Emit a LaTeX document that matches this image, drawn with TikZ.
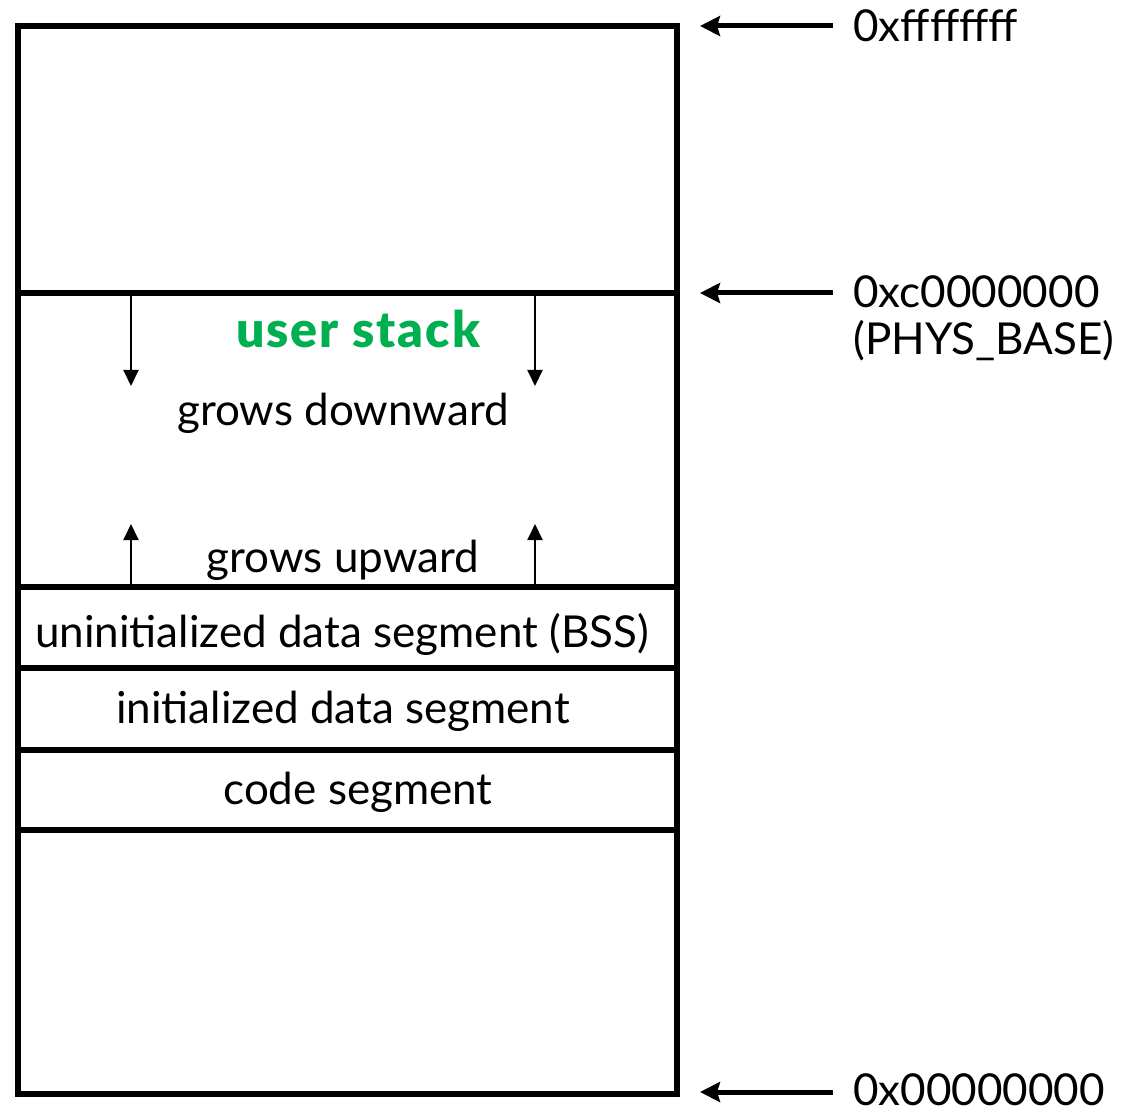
\documentclass[tikz,border=0pt]{standalone}
\usepackage{fontspec}
\setmainfont{Lato}
\newfontfamily\stackfont{Lato Black}[LetterSpace=4]
\usetikzlibrary{arrows.meta}
\definecolor{stackGreen}{RGB}{0,176,80}

\begin{document}
\begin{tikzpicture}[x=0.5pt,y=-0.5pt,
  font=\fontsize{22}{26}\selectfont,
  segLine/.style={line width=3pt},
  growArrow/.style={line width=1pt,-{Triangle[length=8pt,width=7.5pt]}},
  addrArrow/.style={line width=2.5pt,-{Stealth[length=10pt,width=10pt,inset=1.5pt]}}]

\useasboundingbox (0,0) rectangle (1129,1112);

% memory layout
\draw[segLine] (18,26) rectangle (677,1094);
\foreach \y in {293,587,668,750,830}
  \draw[segLine] (18,\y) -- (677,\y);

% stack / heap growth
\coordinate (dlTail) at (131,293);
\coordinate (dlTip) at (131,386);
\coordinate (drTail) at (535,293);
\coordinate (drTip) at (535,386);
\coordinate (ulTail) at (131,587);
\coordinate (ulTip) at (131,524);
\coordinate (urTail) at (535,587);
\coordinate (urTip) at (535,524);
\draw[growArrow] (dlTail) -- (dlTip);
\draw[growArrow] (drTail) -- (drTip);
\draw[growArrow] (ulTail) -- (ulTip);
\draw[growArrow] (urTail) -- (urTip);

\node[stackGreen,anchor=base,font=\fontsize{25}{30}\stackfont]
     at (358,348) (stackCap) {user stack};
\node[anchor=base]
     at (343,425) (downCap) {grows downward};
\node[anchor=base]
     at (343,572) (upCap) {grows upward};

% segments
\node[anchor=base]
     at (342,647) (bssCap) {uninitialized data segment (BSS)};
\node[anchor=base]
     at (343,723) (dataCap) {initialized data segment};
\node[anchor=base]
     at (358,804) (codeCap) {code segment};

% addresses
\coordinate (topTail) at (833,26);
\coordinate (topTip) at (700,26);
\coordinate (physTail) at (833,293);
\coordinate (physTip) at (700,293);
\coordinate (zeroTail) at (833,1092);
\coordinate (zeroTip) at (700,1092);
\draw[addrArrow] (topTail) -- (topTip);
\draw[addrArrow] (physTail) -- (physTip);
\draw[addrArrow] (zeroTail) -- (zeroTip);

\node[anchor=base west,inner sep=0pt]
     at (853,42) (topCap) {0xffffffff};
\node[anchor=base west,inner sep=0pt]
     at (853,308) (physCap) {0xc0000000};
\node[anchor=base west,inner sep=0pt]
     at (853,355) (physBaseCap) {(PHYS\_BASE)};
\node[anchor=base west,inner sep=0pt]
     at (853,1105) (zeroCap) {0x00000000};

\end{tikzpicture}
\end{document}
